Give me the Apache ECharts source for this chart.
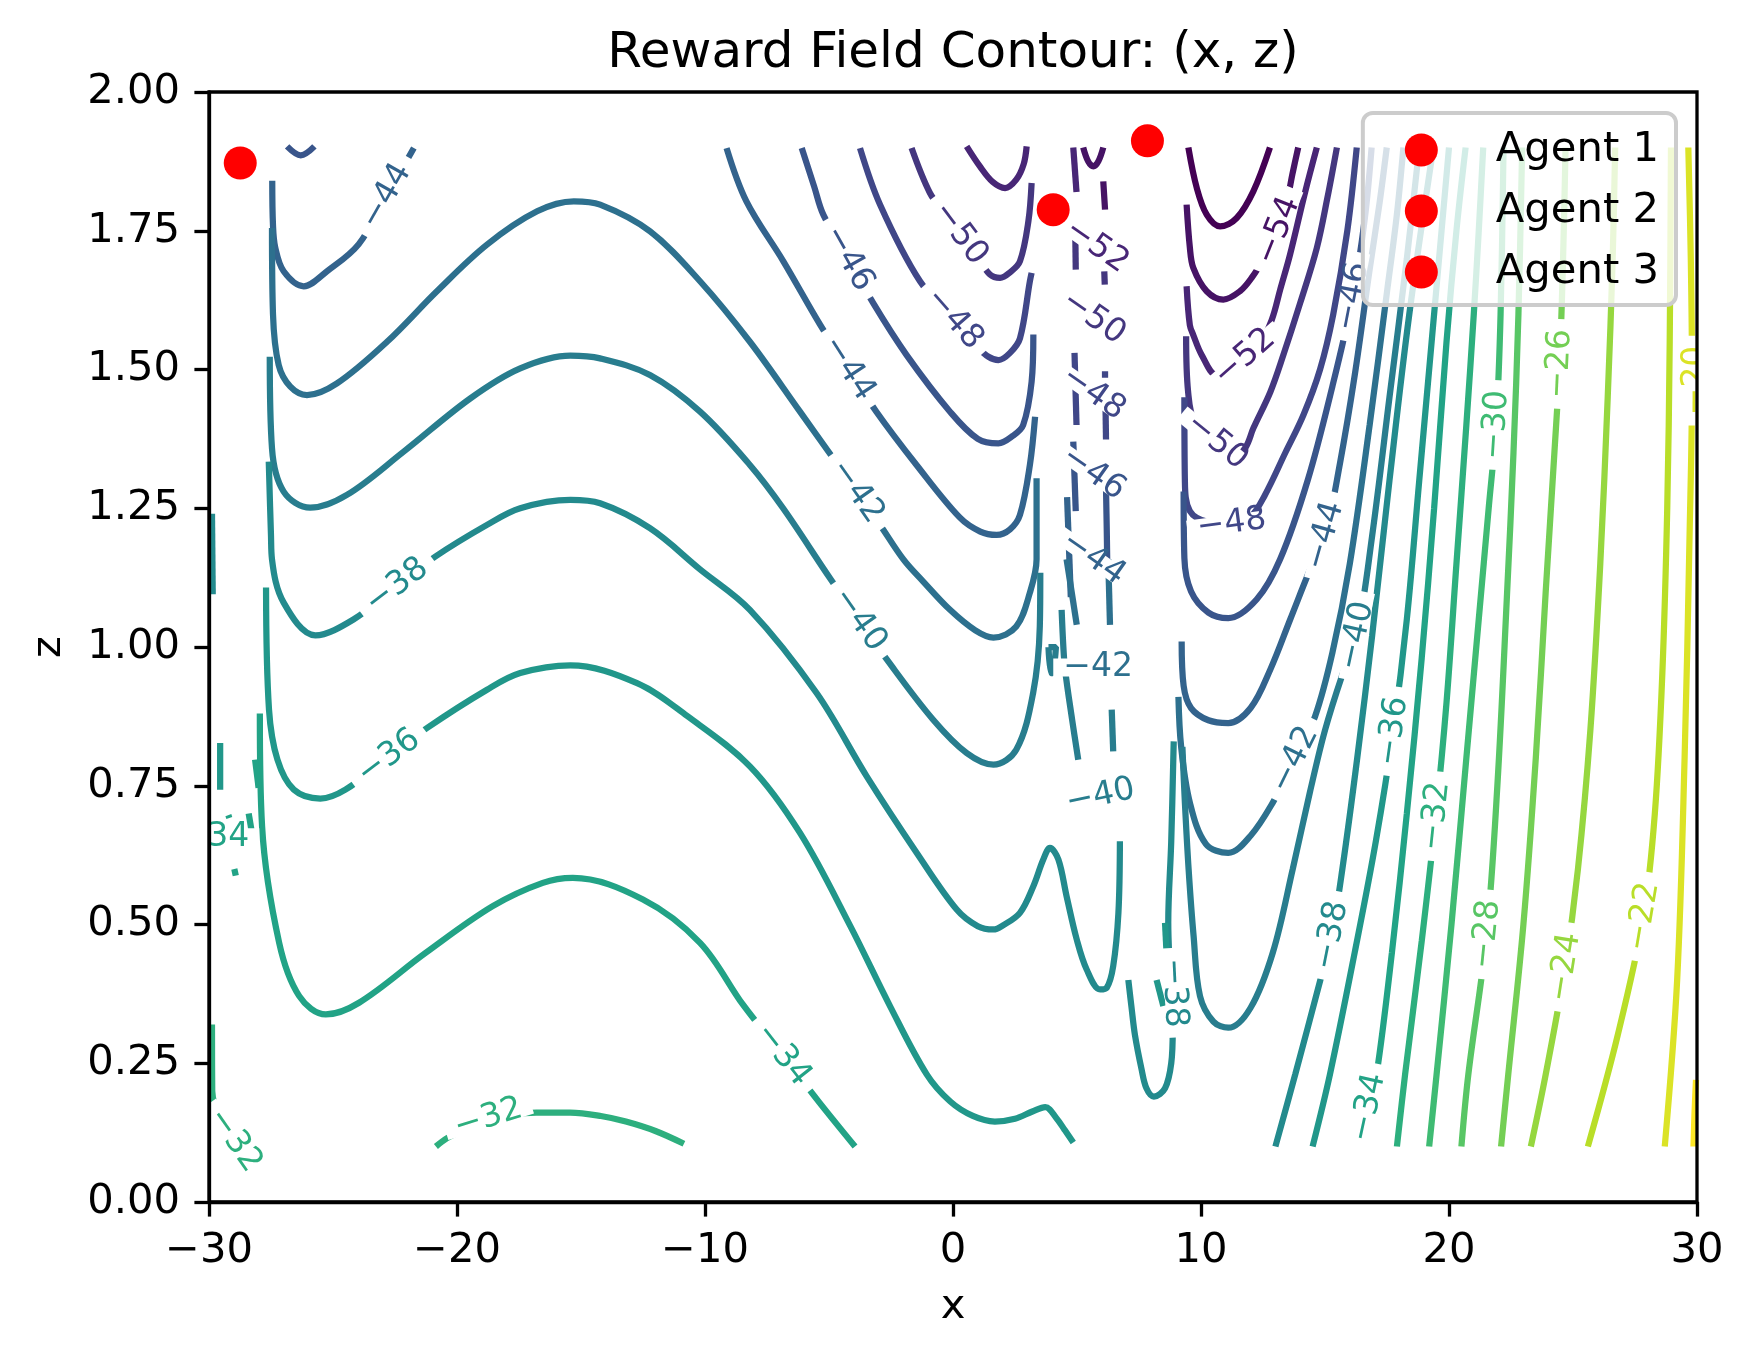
<!DOCTYPE html>
<html>
<head>
<meta charset="utf-8">
<title>Reward Field Contour</title>
<script src="https://cdn.jsdelivr.net/npm/echarts@6/dist/echarts.min.js"></script>
<style>
  html, body { margin: 0; padding: 0; background: #fff; }
  #chart { width: 1753px; height: 1357px; }
</style>
</head>
<body>
<div id="chart"></div>
<script>
// axis ranges
const xRange = [-30, 30];
const zRange = [0, 2];

// contour levels present in the picture
const levels = [-56, -54, -52, -50, -48, -46, -44, -42, -40, -38, -36, -34, -32, -30, -28, -26, -24, -22, -20, -18];

// contour pieces per level, [x, z] points
const c56 = [
    [[9.49, 1.90], [9.83, 1.827], [10.23, 1.779], [10.77, 1.758], [11.44, 1.773], [12.11, 1.821], [12.78, 1.90]]
];
const c54 = [
    [[9.42, 1.797], [9.55, 1.72], [9.69, 1.683], [10.23, 1.641], [10.9, 1.626], [11.57, 1.641], [12.04, 1.665], [12.6, 1.705], [13.12, 1.75], [13.45, 1.80], [13.7, 1.855], [13.92, 1.90]],
    [[5.25, 1.90], [5.45, 1.875], [5.66, 1.866], [5.86, 1.875], [6.06, 1.90]],
    [[6.06, 1.839], [6.13, 1.788]]
];
const c52 = [
    [[0.55, 1.902], [1.1, 1.865], [1.6, 1.838], [2.1, 1.827], [2.55, 1.842], [2.85, 1.87], [2.97, 1.902]],
    [[4.85, 1.90], [4.98, 1.82]],
    [[4.87, 1.751], [5.79, 1.722], [6.71, 1.693]],
    [[9.42, 1.65], [9.55, 1.58], [9.69, 1.562], [10.03, 1.526], [10.63, 1.49], [11.2, 1.50], [11.77, 1.522], [12.35, 1.545], [12.85, 1.589], [13.2, 1.645], [13.59, 1.707], [14.2, 1.82], [14.67, 1.90]]
];
const c50 = [
    [[-1.67, 1.899], [-0.93, 1.818], [-0.3, 1.78], [0.28, 1.745], [0.95, 1.705], [1.49, 1.671], [1.9, 1.665], [2.3, 1.675], [2.7, 1.695], [3.04, 1.767], [3.17, 1.836]],
    [[4.93, 1.75], [4.95, 1.68]],
    [[4.74, 1.622], [5.66, 1.593], [6.58, 1.564]],
    [[6.1, 1.677], [6.12, 1.653]],
    [[9.40, 1.56], [9.48, 1.46], [9.75, 1.405], [10.63, 1.37], [11.4, 1.345], [11.8, 1.36], [12.11, 1.394], [12.8, 1.46], [13.32, 1.526], [14.0, 1.62], [14.67, 1.719], [15.1, 1.81], [15.48, 1.90]]
];
const c48 = [
    [[-3.75, 1.899], [-2.94, 1.797], [-1.33, 1.659], [0.04, 1.591], [1.0, 1.54], [1.43, 1.523], [1.83, 1.517], [2.3, 1.53], [2.7, 1.556], [3.1, 1.659], [3.17, 1.674]],
    [[6.13, 1.497], [6.13, 1.485]],
    [[4.9, 1.53], [4.98, 1.40]],
    [[4.74, 1.486], [5.66, 1.457], [6.58, 1.428]],
    [[6.15, 1.433], [6.17, 1.374]],
    [[9.33, 1.45], [9.35, 1.30], [9.55, 1.245], [10.3, 1.225], [11.24, 1.222], [12.0, 1.235], [12.58, 1.274], [13.4, 1.35], [14.13, 1.418], [14.8, 1.5], [15.33, 1.599], [15.9, 1.75], [16.28, 1.90]]
];
const c46 = [
    [[-6.1, 1.899], [-5.6, 1.83], [-5.23, 1.779], [-4.22, 1.70], [-3.21, 1.619], [-1.87, 1.526], [-0.12, 1.424], [1.0, 1.375], [1.83, 1.367], [2.4, 1.38], [2.83, 1.40], [3.17, 1.478], [3.24, 1.563]],
    [[-26.85, 1.902], [-26.3, 1.886], [-25.75, 1.902]],
    [[4.85, 1.37], [4.95, 1.245]],
    [[4.74, 1.342], [5.66, 1.313], [6.58, 1.284]],
    [[6.17, 1.286], [6.2, 1.211], [6.22, 1.15]],
    [[9.3, 1.28], [9.33, 1.16], [9.6, 1.10], [10.3, 1.062], [11.1, 1.052], [12.25, 1.086], [13.19, 1.158], [14.3, 1.30], [15.3, 1.47], [16.12, 1.631], [16.6, 1.77], [16.88, 1.90]]
];
const c44 = [
    [[-27.45, 1.84], [-27.42, 1.76], [-27.33, 1.72], [-26.99, 1.677], [-26.18, 1.65], [-25.24, 1.677], [-23.96, 1.726], [-22.85, 1.812], [-21.74, 1.899]],
    [[-9.13, 1.899], [-8.33, 1.803], [-6.84, 1.695], [-5.36, 1.581], [-4.22, 1.502], [-3.09, 1.424], [-1.47, 1.328], [0.28, 1.233], [1.1, 1.208], [1.76, 1.202], [2.3, 1.212], [2.7, 1.238], [3.1, 1.328], [3.31, 1.415]],
    [[4.6, 1.27], [4.75, 1.09]],
    [[4.74, 1.189], [5.66, 1.16], [6.58, 1.131]],
    [[9.22, 1.01], [9.3, 0.93], [9.6, 0.89], [10.3, 0.868], [11.1, 0.863], [12.0, 0.89], [12.8, 0.96], [13.6, 1.05], [14.4, 1.14], [15.0, 1.20], [15.6, 1.33], [16.2, 1.49], [16.8, 1.68], [17.2, 1.80], [17.49, 1.90]]
];
const c42 = [
    [[-27.46, 1.755], [-27.42, 1.60], [-27.19, 1.508], [-26.72, 1.469], [-26.05, 1.454], [-24.84, 1.475], [-22.82, 1.55], [-20.81, 1.641], [-18.79, 1.725], [-16.77, 1.785], [-15.29, 1.803], [-14.23, 1.797], [-12.22, 1.749], [-10.2, 1.659], [-8.19, 1.55], [-6.17, 1.424], [-4.83, 1.34], [-3.88, 1.28], [-2.94, 1.22], [-2.0, 1.158], [-1.2, 1.118], [-0.12, 1.067], [0.9, 1.03], [1.63, 1.017], [2.55, 1.037], [3.1, 1.098], [3.37, 1.158], [3.37, 1.304]],
    [[4.58, 1.158], [4.99, 1.04]],
    [[4.95, 0.963], [5.85, 0.963], [6.75, 0.963]],
    [[6.26, 1.158], [6.33, 1.04]],
    [[9.09, 0.91], [9.2, 0.82], [9.55, 0.72], [10.2, 0.645], [11.1, 0.629], [12.0, 0.66], [12.9, 0.72], [13.79, 0.797], [14.6, 0.875], [15.3, 0.99], [16.0, 1.15], [16.8, 1.40], [17.5, 1.64], [17.9, 1.78], [18.16, 1.90]]
];
const c40 = [
    [[-27.55, 1.523], [-27.46, 1.358], [-26.99, 1.280], [-25.92, 1.251], [-24.44, 1.274], [-22.15, 1.352], [-19.46, 1.448], [-17.45, 1.502], [-15.43, 1.525], [-14.23, 1.52], [-12.22, 1.49], [-10.2, 1.424], [-8.19, 1.328], [-6.85, 1.25], [-4.96, 1.124], [-3.78, 1.049], [-2.61, 0.974], [-0.8, 0.869], [0.55, 0.809], [1.63, 0.788], [2.55, 0.815], [3.23, 0.917], [3.5, 1.037], [3.52, 1.134]],
    [[3.85, 1.0], [4.15, 1.0], [4.02, 0.953], [3.95, 0.953], [3.85, 1.0]],
    [[4.38, 1.067], [4.45, 1.0], [4.52, 0.959], [4.8, 0.87], [5.05, 0.797]],
    [[5.05, 0.7225], [5.95, 0.731], [6.85, 0.7395]],
    [[6.4, 0.887], [6.46, 0.812]],
    [[9.25, 0.82], [9.35, 0.72], [9.5, 0.6], [9.7, 0.48], [9.96, 0.371], [10.5, 0.325], [11.1, 0.314], [12.0, 0.35], [12.9, 0.45], [13.7, 0.60], [14.4, 0.74], [15.0, 0.85], [15.7, 0.95], [16.28, 1.02], [16.9, 1.20], [17.6, 1.45], [18.3, 1.70], [18.8, 1.90]]
];
const c38 = [
    [[-27.59, 1.334], [-27.5, 1.2], [-27.46, 1.158], [-26.99, 1.080], [-25.71, 1.021], [-24.16, 1.050], [-22.42, 1.11], [-20.87, 1.163], [-18.79, 1.22], [-17.45, 1.25], [-15.43, 1.265], [-14.23, 1.259], [-12.22, 1.214], [-10.2, 1.14], [-8.19, 1.067], [-5.5, 0.917], [-3.48, 0.767], [-1.46, 0.629], [0.15, 0.527], [1.0, 0.497], [1.63, 0.491], [2.0, 0.498], [2.7, 0.521], [3.24, 0.569], [3.64, 0.617], [3.91, 0.638], [4.25, 0.617], [4.58, 0.551], [4.99, 0.473], [5.39, 0.419], [5.93, 0.383], [6.2, 0.386], [6.46, 0.425], [6.67, 0.521], [6.73, 0.65]],
    [[-29.88, 1.24], [-29.85, 1.095]],
    [[8.9, 0.83], [8.8, 0.65], [8.68, 0.503], [8.72, 0.44], [8.8, 0.377], [8.86, 0.31], [8.8, 0.25], [8.55, 0.205], [8.1, 0.19], [7.8, 0.205], [7.6, 0.24], [7.34, 0.30], [7.2, 0.35], [7.07, 0.40]],
    [[13.0, 0.10], [13.8, 0.23], [14.8, 0.398], [15.27, 0.48], [15.7, 0.60], [16.3, 0.80], [16.9, 1.02], [17.6, 1.3], [18.4, 1.6], [19.37, 1.9]]
];
const c36 = [
    [[-27.7, 1.107], [-27.58, 0.887], [-27.24, 0.797], [-26.58, 0.743], [-25.51, 0.727], [-24.5, 0.743], [-22.75, 0.802], [-21.21, 0.854], [-18.79, 0.923], [-17.45, 0.953], [-15.43, 0.967], [-12.74, 0.935], [-10.73, 0.876], [-8.19, 0.785], [-6.17, 0.665], [-4.15, 0.498], [-2.54, 0.353], [-1.06, 0.23], [-0.11, 0.181], [0.8, 0.155], [1.69, 0.145], [2.5, 0.15], [3.2, 0.163], [3.72, 0.171], [4.17, 0.151], [4.5, 0.13], [4.85, 0.107]],
    [[-29.55, 0.827], [-29.55, 0.743]],
    [[8.21, 0.40], [8.48, 0.353]],
    [[8.55, 0.503], [8.62, 0.44]],
    [[14.5, 0.10], [15.2, 0.23], [16.2, 0.45], [17.05, 0.65], [17.75, 0.848], [18.3, 1.05], [18.8, 1.3], [19.3, 1.55], [19.7, 1.75], [20.0, 1.9]]
];
const c34 = [
    [[-27.95, 0.88], [-27.86, 0.677], [-27.17, 0.467], [-26.36, 0.371], [-25.29, 0.338], [-23.95, 0.359], [-21.26, 0.449], [-18.56, 0.533], [-16.54, 0.575], [-15.33, 0.584], [-12.5, 0.545], [-10.2, 0.467], [-8.46, 0.355], [-6.87, 0.265], [-5.4, 0.18], [-3.95, 0.10]],
    [[-28.14, 0.797], [-28.0, 0.746]],
    [[-28.4, 0.70], [-28.2, 0.647]],
    [[-29.22, 0.697], [-29.18, 0.692]],
    [[-28.98, 0.60], [-28.92, 0.588]],
    [[-29.95, 0.657], [-29.78, 0.657], [-29.6, 0.657]],
    [[16.45, 0.10], [16.75, 0.17], [17.08, 0.23], [17.7, 0.45], [18.3, 0.70], [18.9, 0.98], [19.4, 1.25], [19.9, 1.55], [20.3, 1.75], [20.67, 1.9]]
];
const c32 = [
    [[-20.85, 0.10], [-20.4, 0.115], [-19.6, 0.133], [-18.73, 0.151], [-17.8, 0.158], [-16.8, 0.161], [-15.44, 0.161], [-14.2, 0.155], [-13.19, 0.145], [-12.0, 0.128], [-10.85, 0.105]],
    [[-29.88, 0.32], [-29.87, 0.20], [-29.4, 0.138], [-28.97, 0.111], [-28.55, 0.084]],
    [[17.9, 0.10], [18.23, 0.23], [18.9, 0.47], [19.47, 0.695], [19.9, 0.9], [20.3, 1.15], [20.7, 1.4], [21.0, 1.6], [21.2, 1.75], [21.38, 1.9]]
];
const c30 = [
    [[19.2, 0.10], [19.5, 0.23], [20.1, 0.5], [20.7, 0.8], [21.2, 1.05], [21.6, 1.25], [21.9, 1.40], [22.08, 1.6], [22.2, 1.9]]
];
const c28 = [
    [[20.5, 0.10], [20.78, 0.23], [21.52, 0.482], [21.95, 0.75], [22.33, 1.086], [22.6, 1.35], [22.8, 1.6], [22.95, 1.9]]
];
const c26 = [
    [[22.1, 0.10], [22.39, 0.23], [23.0, 0.5], [23.5, 0.8], [23.9, 1.1], [24.25, 1.35], [24.46, 1.51], [24.6, 1.7], [24.7, 1.9]]
];
const c24 = [
    [[23.3, 0.10], [23.9, 0.23], [24.68, 0.423], [25.2, 0.6], [25.7, 0.85], [26.1, 1.15], [26.4, 1.45], [26.6, 1.7], [26.7, 1.9]]
];
const c22 = [
    [[25.6, 0.10], [26.8, 0.3], [27.84, 0.514], [28.3, 0.7], [28.6, 0.95], [28.8, 1.25], [28.9, 1.55], [28.95, 1.9]]
];
const c20 = [
    [[28.7, 0.10], [29.2, 0.4], [29.5, 0.8], [29.7, 1.2], [29.8, 1.48], [29.75, 1.7], [29.65, 1.9]]
];
const c18 = [
    [[29.86, 0.10], [29.9, 0.16], [29.96, 0.22]]
];

// inline contour labels: [x, z, level]
const contourLabels = [
    [-22.85, 1.812, -44], [-22.42, 1.11, -38], [-22.75, 0.802, -36], [-29.78, 0.657, -34], [-28.97, 0.111, -32], [-18.73, 0.151, -32],
    [-4.22, 1.70, -46], [-4.22, 1.502, -44], [-3.88, 1.28, -42], [-3.78, 1.049, -40], [0.04, 1.591, -48], [0.28, 1.745, -50], [-6.87, 0.265, -34],
    [5.79, 1.722, -52], [5.66, 1.593, -50], [5.66, 1.457, -48], [5.66, 1.313, -46], [5.66, 1.16, -44], [5.85, 0.963, -42], [5.95, 0.731, -40], [8.9, 0.377, -38],
    [13.12, 1.75, -54], [11.77, 1.522, -52], [10.63, 1.37, -50], [11.24, 1.222, -48], [16.12, 1.631, -46], [15.0, 1.2, -44], [13.79, 0.797, -42],
    [16.28, 1.02, -40], [15.27, 0.48, -38], [17.75, 0.848, -36], [16.75, 0.17, -34], [19.47, 0.695, -32], [21.9, 1.4, -30], [21.52, 0.482, -28],
    [24.46, 1.51, -26], [24.68, 0.423, -24], [27.84, 0.514, -22], [29.95, 1.48, -20]
];

// agents
const agentNames = ['Agent 1', 'Agent 2', 'Agent 3'];
const agentX = [-28.74, 4.04, 7.84];
const agentZ = [1.872, 1.788, 1.912];

const piecesByLevel = {
    '-56': c56, '-54': c54, '-52': c52, '-50': c50, '-48': c48, '-46': c46, '-44': c44,
    '-42': c42, '-40': c40, '-38': c38, '-36': c36, '-34': c34, '-32': c32, '-30': c30,
    '-28': c28, '-26': c26, '-24': c24, '-22': c22, '-20': c20, '-18': c18
};

const FONT = "'DejaVu Sans', sans-serif";
const viridisStops = ['#440154', '#482475', '#414487', '#355f8d', '#2a788e', '#21918c',
    '#22a884', '#44bf70', '#7ad151', '#bddf26', '#fde725'];

function levelColor(lv) {
    let t = (lv - levels[0]) / (levels[levels.length - 1] - levels[0]);
    t = Math.max(0, Math.min(1, t));
    const s = t * (viridisStops.length - 1);
    const i = Math.min(Math.floor(s), viridisStops.length - 2);
    const f = s - i;
    const a = viridisStops[i], b = viridisStops[i + 1];
    const ch = k => {
        const va = parseInt(a.substr(k, 2), 16), vb = parseInt(b.substr(k, 2), 16);
        return Math.round(va + (vb - va) * f);
    };
    return 'rgb(' + ch(1) + ',' + ch(3) + ',' + ch(5) + ')';
}

const measureCtx = document.createElement('canvas').getContext('2d');
measureCtx.font = "33px 'DejaVu Sans'";
function textWidth(s) {
    return measureCtx.measureText(s).width;
}

// label angle follows its contour near the label spot
function labelAngle(lv, c, api) {
    let best = null, bestD = Infinity;
    piecesByLevel[lv].forEach(pts => {
        const px = pts.map(p => api.coord(p));
        px.forEach((q, i) => {
            const d = (q[0] - c[0]) * (q[0] - c[0]) + (q[1] - c[1]) * (q[1] - c[1]);
            if (d < bestD) { bestD = d; best = { px: px, i: i }; }
        });
    });
    const a = best.px[Math.max(best.i - 1, 0)];
    const b = best.px[Math.min(best.i + 1, best.px.length - 1)];
    let deg = Math.atan2(-(b[1] - a[1]), b[0] - a[0]) * 180 / Math.PI;
    if (deg > 90) deg -= 180;
    if (deg < -90) deg += 180;
    return deg * Math.PI / 180;
}

const series = [];
levels.forEach(lv => {
    piecesByLevel[lv].forEach(pts => {
        series.push({
            type: 'line',
            data: pts,
            showSymbol: false,
            symbol: 'none',
            smooth: 0.35,
            silent: true,
            z: 2,
            lineStyle: { color: levelColor(lv), width: 6.25, cap: 'butt' }
        });
    });
});

series.push({
    type: 'custom',
    coordinateSystem: 'cartesian2d',
    clip: true,
    silent: true,
    z: 3,
    data: contourLabels,
    encode: { x: 0, y: 1 },
    renderItem: function (params, api) {
        const lv = api.value(2);
        const c = api.coord([api.value(0), api.value(1)]);
        const txt = '\u2212' + Math.abs(lv);
        const tw = textWidth(txt);
        return {
            type: 'group',
            x: c[0],
            y: c[1],
            rotation: labelAngle(lv, c, api),
            children: [
                {
                    type: 'rect',
                    shape: { x: -tw / 2 - 10, y: -9, width: tw + 20, height: 18 },
                    style: { fill: '#ffffff' }
                },
                {
                    type: 'text',
                    style: {
                        text: txt, x: 0, y: 0,
                        align: 'center', verticalAlign: 'middle',
                        fill: levelColor(lv), fontSize: 33, fontFamily: FONT
                    }
                }
            ]
        };
    }
});

agentNames.forEach((name, i) => {
    series.push({
        name: name,
        type: 'scatter',
        data: [[agentX[i], agentZ[i]]],
        symbol: 'circle',
        symbolSize: 33,
        silent: true,
        z: 4,
        itemStyle: { color: '#ff0000', opacity: 1 }
    });
});

const myChart = echarts.init(document.getElementById('chart'));

const option = {
    animation: false,
    backgroundColor: '#ffffff',
    title: {
        text: 'Reward Field Contour: (x, z)',
        left: 953,
        top: 29,
        textAlign: 'center',
        padding: 0,
        textStyle: { fontSize: 50, fontWeight: 'normal', color: '#000', fontFamily: FONT }
    },
    legend: {
        data: agentNames,
        orient: 'vertical',
        right: 77,
        top: 113,
        z: 10,
        itemWidth: 33,
        itemHeight: 33,
        itemGap: 19,
        padding: [16, 17, 12, 42],
        selectedMode: false,
        backgroundColor: 'rgba(255,255,255,0.8)',
        borderColor: '#cccccc',
        borderWidth: 4,
        borderRadius: 10,
        textStyle: { fontSize: 41.7, color: '#000', fontFamily: FONT, padding: [0, 0, 0, 53] }
    },
    grid: {
        left: 209,
        right: 56,
        top: 92,
        bottom: 155,
        z: 5,
        containLabel: false,
        show: true,
        backgroundColor: 'transparent',
        borderColor: '#000',
        borderWidth: 3.3
    },
    xAxis: {
        type: 'value',
        min: xRange[0],
        max: xRange[1],
        interval: 10,
        z: 5,
        name: 'x',
        nameLocation: 'middle',
        nameGap: 84,
        nameTextStyle: { fontSize: 41.7, color: '#000', fontFamily: FONT },
        axisLine: { show: true, onZero: false, lineStyle: { color: '#000', width: 3.3 } },
        axisTick: { show: true, inside: false, length: 14.6, lineStyle: { color: '#000', width: 3.3 } },
        axisLabel: {
            margin: 28, fontSize: 41.7, color: '#000', fontFamily: FONT,
            formatter: v => String(v).replace('-', '\u2212')
        },
        splitLine: { show: false }
    },
    yAxis: {
        type: 'value',
        min: zRange[0],
        max: zRange[1],
        interval: 0.25,
        z: 5,
        name: 'z',
        nameLocation: 'middle',
        nameGap: 139,
        nameTextStyle: { fontSize: 41.7, color: '#000', fontFamily: FONT },
        axisLine: { show: true, onZero: false, lineStyle: { color: '#000', width: 3.3 } },
        axisTick: { show: true, inside: false, length: 14.6, lineStyle: { color: '#000', width: 3.3 } },
        axisLabel: {
            margin: 29, fontSize: 41.7, color: '#000', fontFamily: FONT,
            formatter: v => v.toFixed(2)
        },
        splitLine: { show: false }
    },
    series: series
};

myChart.setOption(option);

window.addEventListener('resize', function () {
    myChart.resize();
});
</script>
</body>
</html>
